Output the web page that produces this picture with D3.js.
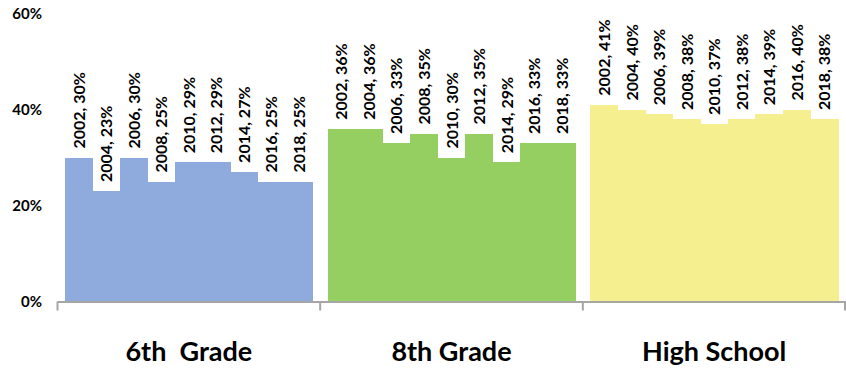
<!DOCTYPE html>
<html>
<head>
<meta charset="utf-8">
<script src="https://cdn.jsdelivr.net/npm/d3@7"></script>
<style>
  html, body { margin: 0; padding: 0; background: #fff; }
  svg { display: block; }
  text { font-family: Lato, "Open Sans", sans-serif; }
</style>
</head>
<body>
<svg id="chart" width="846" height="369"></svg>
<script>
const groups = ["6th  Grade", "8th Grade", "High School"];
const years = ["2002", "2004", "2006", "2008", "2010", "2012", "2014", "2016", "2018"];
const grade6 = [30, 23, 30, 25, 29, 29, 27, 25, 25];
const grade8 = [36, 36, 33, 35, 30, 35, 29, 33, 33];
const highSchool = [41, 40, 39, 38, 37, 38, 39, 40, 38];
const yTicks = [0, 20, 40, 60];
const colors = ["#8faadc", "#95cf61", "#f6ef8f"];

const series = [grade6, grade8, highSchool];
const svg = d3.select("#chart");

const x0 = d3.scaleBand().domain(groups).range([57.5, 845.5]).paddingInner(0).paddingOuter(0);
const x1 = d3.scaleBand().domain(years).range([0, x0.bandwidth()]).paddingInner(0).paddingOuter(0.27);
const y = d3.scaleLinear().domain([0, 60]).range([301.5, 13.5]);

// y tick labels
svg.append("g").selectAll("text").data(yTicks).join("text")
  .attr("x", 42).attr("y", d => y(d)).attr("dy", "0.36em")
  .attr("text-anchor", "end")
  .attr("font-size", 15).attr("font-weight", 700).attr("fill", "#000")
  .text(d => d + "%");

// bars
const g = svg.append("g").selectAll("g").data(groups).join("g")
  .attr("transform", d => `translate(${x0(d)},0)`);

g.each(function(grp, gi) {
  const sel = d3.select(this);
  const vals = series[gi].map((v, i) => ({ year: years[i], v }));
  sel.selectAll("rect").data(vals).join("rect")
    .attr("x", d => x1(d.year))
    .attr("width", x1.bandwidth() + 0.6)
    .attr("y", d => y(d.v))
    .attr("height", d => y(0) - y(d.v))
    .attr("fill", colors[gi])
    .attr("shape-rendering", "crispEdges");
  sel.selectAll("text").data(vals).join("text")
    .attr("transform", d => `translate(${x1(d.year) + x1.bandwidth() / 2 + 6},${y(d.v) - 9}) rotate(-90)`)
    .attr("text-anchor", "start")
    .attr("font-size", 16).attr("font-weight", 700).attr("fill", "#000")
    .text(d => `${d.year}, ${d.v}%`);
});

// x axis
const axis = d3.axisBottom(x0).tickSize(0).tickFormat("");
const ax = svg.append("g").attr("transform", `translate(0,${y(0)})`).call(axis);
ax.select(".domain").remove();
ax.append("line").attr("x1", 57.5).attr("x2", 846).attr("y1", 0.5).attr("y2", 0.5)
  .attr("stroke", "#a6a6a6").attr("stroke-width", 2);
const bounds = [x0(groups[0]), ...groups.map(d => x0(d) + x0.bandwidth())];
ax.selectAll(".sep").data(bounds).join("line").attr("class", "sep")
  .attr("x1", d => Math.min(d, 845)).attr("x2", d => Math.min(d, 845))
  .attr("y1", 0).attr("y2", 9)
  .attr("stroke", "#a6a6a6").attr("stroke-width", 2);

// category labels
svg.append("g").selectAll("text").data(groups).join("text")
  .attr("x", d => x0(d) + x0.bandwidth() / 2)
  .attr("y", 361)
  .attr("text-anchor", "middle")
  .attr("font-size", 27).attr("font-weight", 700).attr("fill", "#000")
  .attr("xml:space", "preserve").style("white-space", "pre")
  .text(d => d);
</script>
</body>
</html>
